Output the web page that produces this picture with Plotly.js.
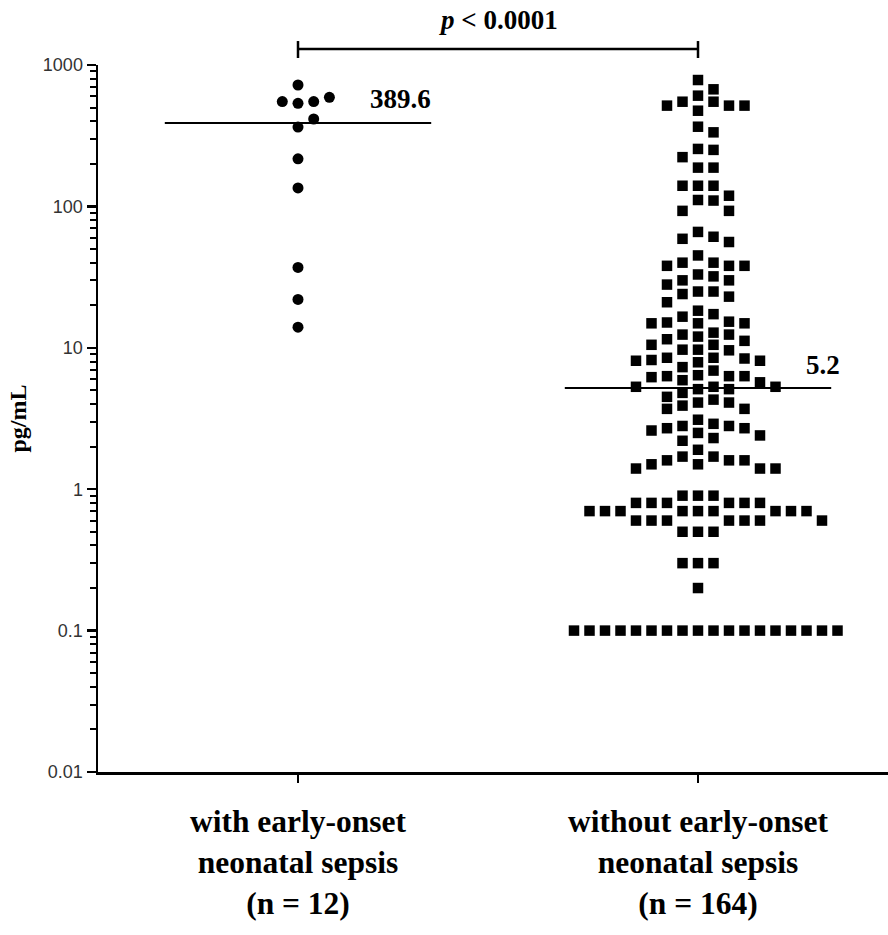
<!DOCTYPE html>
<html><head><meta charset="utf-8">
<script src="https://cdn.plot.ly/plotly-3.0.1.min.js"></script>
<style>html,body{margin:0;padding:0;background:#fff;}#chart{width:888px;height:935px;}</style>
</head><body><div id="chart"></div>
<script>
// ---------- data ----------
const categories = [
  "with early-onset<br>neonatal sepsis<br>(n = 12)",
  "without early-onset<br>neonatal sepsis<br>(n = 164)"
];
const withEONS = [722, 591, 551, 551, 536, 415, 364.2, 217, 135, 37, 22, 14];
const withoutEONS = [
  783, 673, 550, 516, 516, 475, 516, 550, 607, 366, 334, 255, 251, 223, 188, 188, 140, 140, 140, 119, 110, 111, 93, 93,
  66, 59, 56, 61, 45, 40, 38, 38, 38, 40, 32, 33, 30, 28, 30, 25, 24, 25, 23, 21,
  18.3, 16.6, 14.9, 14.9, 14.9, 15.1, 15.3, 12.4, 17.3, 12.8, 10.5, 12.0, 11.2, 11.5, 12.4, 10.5, 9.7, 9.6, 9.7, 8.5,
  8.1, 8.1, 7.3, 8.5, 7.9, 8.2, 8.4, 6.4, 6.9, 6.3, 6.2, 5.7, 5.3, 5.1, 5.1, 5.3, 5.3, 5.9, 6.3, 6.3,
  4.5, 4.1, 3.9, 3.7, 3.7, 4.1, 4.3, 4.8, 3.1, 2.8, 2.7, 2.7, 2.8, 2.9, 2.5, 2.3, 2.6, 2.2, 2.4, 1.9,
  1.7, 1.6, 1.6, 1.5, 1.4, 1.4, 1.4, 1.5, 1.6, 1.7,
  0.9, 0.9, 0.9, 0.8, 0.8, 0.8, 0.8, 0.8, 0.8,
  0.7, 0.7, 0.7, 0.7, 0.7, 0.7, 0.7, 0.7, 0.7,
  0.6, 0.6, 0.6, 0.6, 0.6, 0.6, 0.6, 0.5, 0.5, 0.5, 0.3, 0.3, 0.3, 0.2,
  0.1, 0.1, 0.1, 0.1, 0.1, 0.1, 0.1, 0.1, 0.1, 0.1, 0.1, 0.1, 0.1, 0.1, 0.1, 0.1, 0.1, 0.1
];
const medians = [389.6, 5.2];
const medianLabels = ["389.6", "5.2"];
const pValueHTML = "<i>p</i> &lt; 0.0001";
const yTickVals = [0.01, 0.1, 1, 10, 100, 1000];
const yTickText = ["0.01", "0.1", "1", "10", "100", "1000"];
const yAxisTitle = "pg/mL";

// ---------- layout geometry ----------
const W = 888, H = 935;
const M = {l: 98, r: 0, t: 65, b: 163};
const xRange = [-0.5, 1.475];
const yRange = [-2, 3];
const plotW = W - M.l - M.r, plotH = H - M.t - M.b;
const pxPerX = plotW / (xRange[1] - xRange[0]);
const pxPerDec = plotH / (yRange[1] - yRange[0]);

// beeswarm layout computed from values through the axis scale
function swarm(values, center, stepPx, vThresh, ascending) {
  const order = values.map((v, i) => i).sort((a, b) => ascending ? values[a] - values[b] : values[b] - values[a]);
  const placed = [];
  const xs = new Array(values.length);
  order.forEach(i => {
    const py = -Math.log10(values[i]) * pxPerDec;
    for (let k = 0; k < 400; k++) {
      const m = k === 0 ? 0 : (k % 2 === 1 ? (k + 1) / 2 : -k / 2);
      const px = m * stepPx;
      const hit = placed.some(p => Math.abs(p.y - py) < vThresh && Math.abs(p.x - px) < stepPx - 0.01);
      if (!hit) { placed.push({x: px, y: py}); xs[i] = center + px / pxPerX; break; }
    }
  });
  return xs;
}

const x0 = swarm(withEONS, 0, 15.7, 12, true);
const x1 = swarm(withoutEONS, 1, 15.5, 12, false);

const traces = [
  {type: 'scatter', mode: 'markers', x: x0, y: withEONS, cliponaxis: false,
   marker: {symbol: 'circle', size: 11, color: '#000', line: {width: 0}}, hoverinfo: 'y'},
  {type: 'scatter', mode: 'markers', x: x1, y: withoutEONS, cliponaxis: false,
   marker: {symbol: 'square', size: 10.5, color: '#000', line: {width: 0}}, hoverinfo: 'y'}
];

// minor ticks 2..9 per decade
const minorVals = [];
for (let e = yRange[0]; e < yRange[1]; e++) for (let d = 2; d <= 9; d++) minorVals.push(d * Math.pow(10, e));

const serifBold = {family: 'Liberation Serif, Times New Roman, serif', color: '#000', weight: 700};

const shapes = [];
medians.forEach((m, i) => {
  shapes.push({type: 'line', xref: 'x', yref: 'y', x0: i - 0.333, x1: i + 0.333,
    y0: m, y1: m, line: {color: '#000', width: 2}});
});
// significance bracket
const brY = 1.0226, brTop = 1.0339, brBot = 1.0099;
shapes.push({type: 'line', xref: 'x', yref: 'paper', x0: 0, x1: 1, y0: brY, y1: brY, line: {color: '#000', width: 2.5}});
[0, 1].forEach(c => shapes.push({type: 'line', xref: 'x', yref: 'paper', x0: c, x1: c, y0: brBot, y1: brTop, line: {color: '#000', width: 2.5}}));

const labelOffsets = [0.255, 0.3125];
const labelShift = [24, 23];
const annotations = medians.map((m, i) => ({
  xref: 'x', yref: 'y', x: i + labelOffsets[i], y: Math.log10(m), yshift: labelShift[i],
  text: medianLabels[i], showarrow: false, xanchor: 'center', yanchor: 'middle',
  font: Object.assign({}, serifBold, {size: 27})
}));
annotations.push({xref: 'x', yref: 'paper', x: 0.5, y: 1.0636, text: pValueHTML, showarrow: false,
  xanchor: 'center', yanchor: 'middle', font: Object.assign({}, serifBold, {size: 27})});

const layout = {
  width: W, height: H, margin: M, paper_bgcolor: '#fff', plot_bgcolor: '#fff', showlegend: false,
  xaxis: {range: xRange, tickmode: 'array', tickvals: [0, 1], ticktext: categories,
    showline: true, linecolor: '#000', linewidth: 2.5, ticks: 'outside', ticklen: 8, tickwidth: 2.5, tickcolor: '#000',
    showgrid: false, zeroline: false, fixedrange: true, ticklabelstandoff: 12,
    tickfont: Object.assign({}, serifBold, {size: 31.5})},
  yaxis: {type: 'log', range: yRange, tickmode: 'array', tickvals: yTickVals, ticktext: yTickText,
    showline: true, linecolor: '#000', linewidth: 2.5, ticks: 'outside', ticklen: 9, tickwidth: 2.5, tickcolor: '#000',
    showgrid: false, zeroline: false, fixedrange: true,
    tickfont: {family: 'Liberation Sans, Arial, sans-serif', size: 18, color: '#333'},
    minor: {tickmode: 'array', tickvals: minorVals, ticks: 'outside', ticklen: 6, tickwidth: 2, tickcolor: '#000', showgrid: false},
    title: {text: yAxisTitle, standoff: 10, font: Object.assign({}, serifBold, {size: 24})}},
  shapes: shapes, annotations: annotations
};

Plotly.newPlot('chart', traces, layout, {displayModeBar: false, staticPlot: true});
</script>
</body></html>
